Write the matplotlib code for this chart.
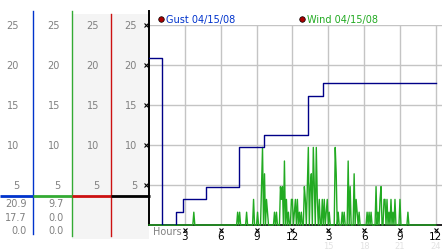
import numpy as np
import matplotlib
matplotlib.use("Agg")
import matplotlib.pyplot as plt
from matplotlib.lines import Line2D
from matplotlib.patches import Rectangle

# gust (mph), step changes: hour at which a new value starts
gust_hours = [0, 1.06, 2.23, 2.87, 4.74, 7.56, 9.62, 13.33, 14.54, 24.0]
gust_mph = [20.9, 0.0, 1.6, 3.2, 4.8, 9.7, 11.3, 16.1, 17.7, 17.7]

# wind (mph), 5-minute readings; slots not listed read 0.0
wind_slot = [45, 89, 91, 98, 105, 109, 113, 114, 116, 118, 119, 126, 128,
             132, 133, 134, 136, 138, 140, 143, 144, 146, 147, 149, 151, 153,
             156, 157, 159, 160, 162, 163, 165, 166, 168, 169, 171, 174, 176,
             178, 179, 181, 187, 188, 190, 194, 196, 200, 202, 206, 208, 209,
             211, 219, 221, 223, 228, 230, 232, 233, 236, 237, 239, 241, 243,
             245, 247, 252, 260]
wind_mph = [1.6, 1.6, 1.6, 1.6, 3.2, 1.6, 4.8, 9.7, 6.4, 3.2, 1.6, 1.6, 1.6,
            4.8, 3.2, 4.8, 8.0, 3.2, 1.6, 3.2, 3.2, 1.6, 3.2, 3.2, 1.6, 1.6,
            4.8, 3.2, 4.8, 9.7, 4.8, 6.4, 9.7, 4.8, 9.7, 3.2, 3.2, 3.2, 3.2,
            1.6, 3.2, 1.6, 9.7, 6.4, 1.6, 1.6, 1.6, 8.0, 4.8, 6.4, 3.2, 1.6,
            1.6, 1.6, 1.6, 1.6, 4.8, 1.6, 3.2, 4.8, 3.2, 3.2, 3.2, 1.6, 3.2,
            1.6, 3.2, 3.2, 1.6]

hour_ticks = [3, 6, 9, 12, 15, 18, 21, 24]
hour_labels = ["3", "6", "9", "12", "3", "6", "9", "12"]
late_labels = ["15", "18", "21", "24"]
y_ticks = [5, 10, 15, 20, 25]
legend_names = ["Gust 04/15/08", "Wind 04/15/08"]

GUST = "#000088"
WIND = "#22aa22"
BLUE = "#0033cc"
GREEN = "#33aa33"
RED = "#cc1111"
GRAY = "#808080"

W, H = 442, 253
fig = plt.figure(figsize=(W / 100, H / 100), dpi=100)

# overlay in pixel coordinates for the side panel decoration
ov = fig.add_axes([0, 0, 1, 1], zorder=0)
ov.set_xlim(0, W)
ov.set_ylim(H, 0)
ov.axis("off")

ax = fig.add_axes([149 / W, (H - 226) / H, 293 / W, 200 / H], zorder=1)
ax.set_facecolor("none")
ax.set_xlim(0, 293 / 11.95)
ax.set_ylim(0, 25)

# side panel backgrounds and lines
ov.add_patch(Rectangle((72, 15), 77, 225, color="#f4f4f4", lw=0))
ov.add_line(Line2D([33, 33], [12, 235], color=BLUE, lw=1))
ov.add_line(Line2D([72, 72], [12, 237], color=GREEN, lw=1))
ov.add_line(Line2D([111, 111], [15, 237], color=RED, lw=1))
ov.add_line(Line2D([149, 149], [12, 27], color="black", lw=1.4))
for x0, x1, c in [(0, 33, BLUE), (33, 72, GREEN), (72, 111, RED),
                  (111, 150, "black")]:
    ov.add_line(Line2D([x0, x1], [197, 197], color=c, lw=2,
                       solid_capstyle="butt"))

# grid
for v in y_ticks:
    ax.axhline(v, color="#c4c4c4", lw=1, zorder=1)
for h in hour_ticks:
    ax.axvline(h, color="#c4c4c4", lw=1, zorder=1)

# series
wind = np.zeros(289)
wind[wind_slot] = wind_mph
wind_hours = np.arange(289) / 12
ax.plot(wind_hours, wind, color=WIND, lw=1, zorder=3, clip_on=False)
ax.plot(gust_hours, gust_mph, drawstyle="steps-post", color=GUST, lw=1,
        zorder=4)

for s in ["top", "right"]:
    ax.spines[s].set_visible(False)
ax.spines["left"].set_linewidth(1.4)
ax.spines["bottom"].set_linewidth(1.2)
ax.set_xticks([])
ax.set_yticks([])

ytr = ax.get_yaxis_transform()
xtr = ax.get_xaxis_transform()

# y labels repeated in the four side columns
for v in y_ticks:
    for px in [19, 60, 99, 137]:
        ax.text((px - 149) / 293, v, str(v), transform=ytr, ha="right",
                va="center", fontsize=7, color=GRAY, clip_on=False)
    ax.plot([-0.011], [v], marker="x", ms=2.5, mew=0.8, color="black",
            transform=ytr, clip_on=False)

# x labels
for h, lab in zip(hour_ticks, hour_labels):
    ax.text(h, -0.057, lab, transform=xtr, ha="center", va="center",
            fontsize=7.5, color="black", clip_on=False)
    ax.plot([h], [-0.025], marker="x", ms=2.5, mew=0.8, color="black",
            transform=xtr, clip_on=False)
for h, lab in zip(hour_ticks[4:], late_labels):
    ax.text(h, -0.105, lab, transform=xtr, ha="center", va="center",
            fontsize=6, color="#e2e2e2", clip_on=False)
ax.text(0.014, -0.03, "Hours", transform=ax.transAxes, ha="left",
        va="center", fontsize=7, color=GRAY)

# readouts: max, last, min
for col_x, vals in [(27, gust_mph), (64, wind)]:
    for py, v in zip([204, 218, 231], [max(vals), vals[-1], min(vals)]):
        ov.text(col_x, py, f"{v:.1f}", ha="right", va="center",
                fontsize=7, color=GRAY)

# legend
for px, name, c in [(161, legend_names[0], BLUE),
                    (302, legend_names[1], WIND)]:
    ov.plot([px], [20], marker="o", ms=4, color="#aa0000", mec="black",
            mew=0.5)
    ov.text(px + 5, 20, name, ha="left", va="center", fontsize=7, color=c)

fig.savefig("out.png", dpi=100)
